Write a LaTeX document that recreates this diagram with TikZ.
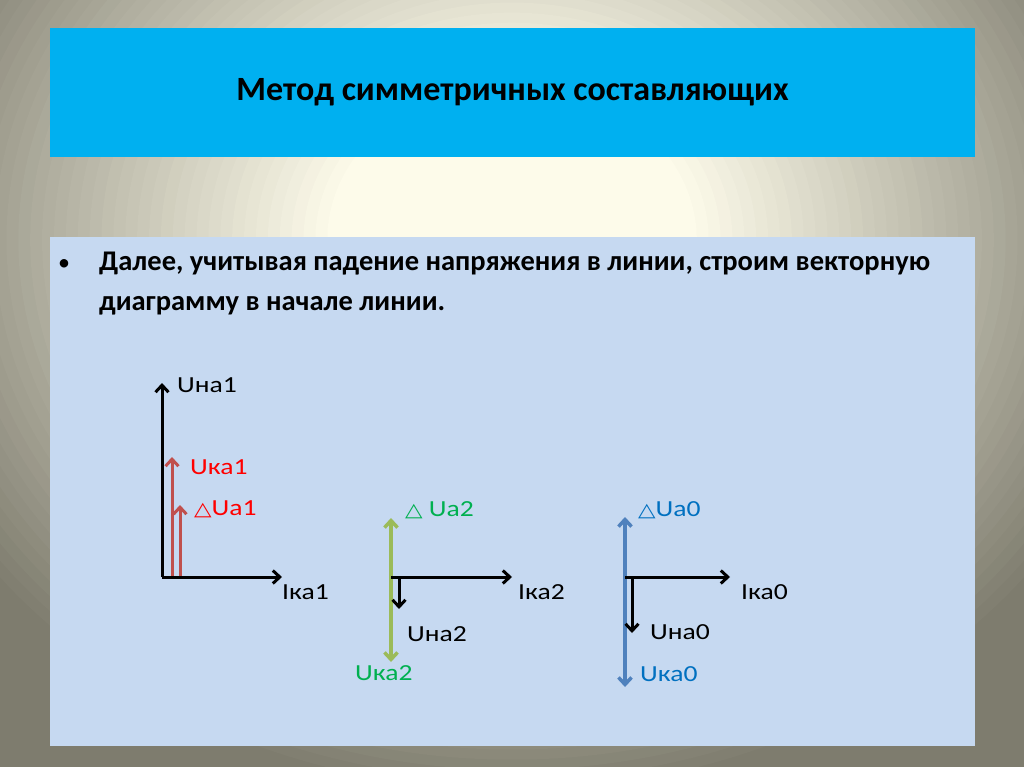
\documentclass[tikz,border=0pt]{standalone}
\usepackage{fontspec}
\setmainfont{Carlito}
\newfontfamily\symfont{DejaVu Sans}
\usetikzlibrary{arrows.meta}
\definecolor{bgcream}{HTML}{FDFBEA}
\definecolor{bggrey}{HTML}{7E7C6E}
\definecolor{titlebox}{HTML}{00B0F0}
\definecolor{contentbox}{HTML}{C6D9F1}
\definecolor{redarrow}{HTML}{C0504D}
\definecolor{redtext}{HTML}{FF0000}
\definecolor{greenarrow}{HTML}{9BBB59}
\definecolor{greentext}{HTML}{00B050}
\definecolor{bluearrow}{HTML}{4F81BD}
\definecolor{bluetext}{HTML}{0070C0}
\newcommand{\wide}[1]{\scalebox{1.2}[1]{#1}}
\newcommand{\tri}{{\symfont\fontsize{19}{21}\selectfont △}}
\tikzset{
  vec/.style={line width=3pt, -{Straight Barb[length=7pt,width=13pt]}},
  dvec/.style={line width=3.5pt, {Straight Barb[length=7pt,width=13pt]}-{Straight Barb[length=7pt,width=13pt]}},
  lbl/.style={font=\fontsize{23}{27}\selectfont, inner sep=0pt, anchor=west},
}
\begin{document}
\begin{tikzpicture}[x=1pt,y=-1pt]
\useasboundingbox (0,0) rectangle (1024,767);
\begin{scope}
\clip (0,0) rectangle (1024,767);
\fill[bggrey] (0,0) rectangle (1024,767);
\foreach \k in {0,...,40}{
  \pgfmathsetmacro{\f}{1-0.72*\k/40}
  \pgfmathsetmacro{\p}{100*\k/40}
  \fill[bgcream!\p!bggrey] (512,240) ellipse ({660*\f} and {560*\f});
}
\end{scope}
% title
\node[fill=titlebox, minimum width=925pt, minimum height=129pt, inner sep=0pt] (title) at (512.5,92.5)
  {\fontsize{34}{38}\selectfont\bfseries Метод симметричных составляющих};
% content
\node[fill=contentbox, minimum width=925pt, minimum height=509pt, inner sep=0pt] (content) at (512.5,491.5) {};
\node[anchor=base west, inner sep=0pt, font=\fontsize{24}{28}\selectfont] (bullet) at (58,270) {•};
\node[anchor=base west, inner sep=0pt, font=\fontsize{28.5}{32}\selectfont\bfseries] (line1) at (99,270) {Далее, учитывая падение напряжения в линии, строим векторную};
\node[anchor=base west, inner sep=0pt, font=\fontsize{28.5}{32}\selectfont\bfseries] (line2) at (99,310) {диаграмму в начале линии.};
% diagram 1
\coordinate (o1) at (162,577);
\coordinate (u1top) at (162,383);
\coordinate (i1end) at (282,577);
\coordinate (k1b) at (172,577);
\coordinate (k1t) at (172,457);
\coordinate (d1b) at (180,577);
\coordinate (d1t) at (180,505);
\draw[vec, redarrow] (k1b) -- (k1t);
\draw[vec, redarrow] (d1b) -- (d1t);
\draw[vec] (o1) -- (u1top);
\draw[vec] (o1) -- (i1end);
\node[lbl] (una1) at (177,385) {\wide{Uна1}};
\node[lbl, text=redtext] (uka1) at (190,467) {\wide{Uка1}};
\node[lbl, text=redtext] (dua1) at (194,509) {\wide{\tri Ua1}};
\node[lbl] (ika1) at (282,592) {\wide{Iка1}};
% diagram 2
\coordinate (o2) at (391,577);
\coordinate (g2t) at (391,518);
\coordinate (g2b) at (391,662);
\coordinate (i2end) at (512,577);
\coordinate (n2b) at (399,577);
\coordinate (n2t) at (399,609);
\draw[dvec, greenarrow] (g2b) -- (g2t);
\draw[vec] (o2) -- (i2end);
\draw[vec] (n2b) -- (n2t);
\node[lbl, text=greentext] (dua2) at (405,510) {\wide{\tri\ Ua2}};
\node[lbl] (ika2) at (518,592) {\wide{Iка2}};
\node[lbl] (una2) at (407,634) {\wide{Uна2}};
\node[lbl, text=greentext] (uka2) at (355,673) {\wide{Uка2}};
% diagram 3
\coordinate (o3) at (625,577);
\coordinate (b3t) at (625,517);
\coordinate (b3b) at (625,687);
\coordinate (i3end) at (730,577);
\coordinate (n3b) at (632,577);
\coordinate (n3t) at (632,633);
\draw[dvec, bluearrow] (b3b) -- (b3t);
\draw[vec] (o3) -- (i3end);
\draw[vec] (n3b) -- (n3t);
\node[lbl, text=bluetext] (dua0) at (638,510) {\wide{\tri Ua0}};
\node[lbl] (ika0) at (741,592) {\wide{Iка0}};
\node[lbl] (una0) at (650,632) {\wide{Uна0}};
\node[lbl, text=bluetext] (uka0) at (640,674) {\wide{Uка0}};
\end{tikzpicture}
\end{document}
